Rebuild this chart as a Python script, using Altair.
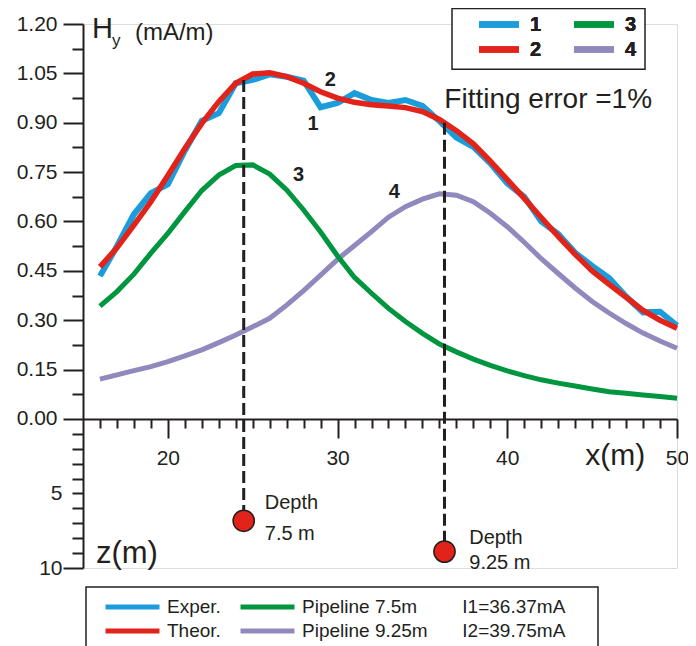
import altair as alt
import pandas as pd

# ---------------- data ----------------
x_m = list(range(16, 51))

exper = [0.434, 0.525, 0.622, 0.686, 0.713, 0.815, 0.906, 0.929, 1.020, 1.030,
         1.047, 1.040, 1.028, 0.947, 0.960, 0.990, 0.969, 0.960, 0.969, 0.951,
         0.905, 0.855, 0.827, 0.777, 0.716, 0.675, 0.600, 0.562, 0.505, 0.465,
         0.428, 0.372, 0.324, 0.326, 0.284]
theor = [0.462, 0.520, 0.589, 0.660, 0.740, 0.822, 0.898, 0.964, 1.020, 1.048,
         1.052, 1.040, 1.020, 0.994, 0.975, 0.962, 0.955, 0.951, 0.946, 0.934,
         0.910, 0.876, 0.836, 0.783, 0.727, 0.670, 0.612, 0.555, 0.500, 0.450,
         0.409, 0.370, 0.330, 0.300, 0.276]
pipe75 = [0.343, 0.387, 0.440, 0.504, 0.564, 0.630, 0.694, 0.741, 0.770, 0.772,
          0.744, 0.696, 0.635, 0.568, 0.495, 0.430, 0.382, 0.336, 0.296, 0.260,
          0.228, 0.204, 0.182, 0.163, 0.146, 0.132, 0.119, 0.109, 0.100, 0.091,
          0.083, 0.078, 0.073, 0.068, 0.063]
pipe925 = [0.121, 0.134, 0.147, 0.159, 0.174, 0.192, 0.210, 0.232, 0.255, 0.280,
           0.306, 0.346, 0.390, 0.437, 0.485, 0.527, 0.569, 0.613, 0.645, 0.668,
           0.684, 0.680, 0.660, 0.625, 0.584, 0.537, 0.487, 0.442, 0.398, 0.357,
           0.322, 0.290, 0.261, 0.237, 0.215]

series_ids = ["1", "2", "3", "4"]
series_desc = ["Exper.", "Theor.", "Pipeline 7.5m", "Pipeline 9.25m"]
series_colors = ["#1b9cdb", "#e2231a", "#00963f", "#8f89bd"]
series_width = [6, 5.5, 5, 5]
series_vals = [exper, theor, pipe75, pipe925]

currents = ["I1=36.37mA", "I2=39.75mA"]

# pipelines: x position, top of the dashed line on the curves (Hy), depth of marker (m)
pipe_x = [24.47, 36.3]
pipe_top = [1.03, 0.90]
pipe_depth = [6.83, 8.9]

# one vertical scale: Hy (mA/m) above 0, depth z (m) drawn downward below 0
DEPTH_K = 0.04527          # Hy units per metre of depth
Y_DOMAIN = [-10 * DEPTH_K, 1.2]

INK = "#231f20"
FONT = "Liberation Sans"

# ---------------- tables ----------------
rows = []
for sid, desc, vals in zip(series_ids, series_desc, series_vals):
    for xv, v in zip(x_m, vals):
        rows.append({"x": xv, "value": v, "series": sid, "desc": desc})
df = pd.DataFrame(rows)

pipes = pd.DataFrame({
    "x": pipe_x,
    "value": pipe_top,
    "y2": [-d * DEPTH_K for d in pipe_depth],
})

# ---------------- axes ----------------
y_ticks = [round(i * 0.075, 4) for i in range(17)] + [round(-z * DEPTH_K, 5) for z in range(1, 11)]
y_label_expr = (
    "datum.value > -0.001 ? "
    "(abs(datum.value/0.15 - round(datum.value/0.15)) < 0.01 ? format(datum.value, '.2f') : '') : "
    "((round(-datum.value/0.04527) == 5 || round(-datum.value/0.04527) == 10) ? '' + round(-datum.value/0.04527) : '')"
)
y_major = ("(datum.value > -0.001 && abs(datum.value/0.15 - round(datum.value/0.15)) < 0.01) "
           "|| datum.value < -0.44")

yaxis = alt.Axis(
    values=y_ticks, title=None, grid=False,
    labelExpr=y_label_expr, labelOverlap=False, labelFlush=False,
    tickSize={"condition": {"test": y_major, "value": 20}, "value": 11},
    labelPadding={"condition": [{"test": "datum.value < -0.44", "value": 1},
                                {"test": "datum.value < -0.01", "value": 10}],
                  "value": 6},
    domainColor=INK, domainWidth=2, tickColor=INK, tickWidth=2,
    labelFont=FONT, labelFontSize=21, labelColor=INK,
)
xaxis = alt.Axis(
    values=x_m, title=None, grid=False, offset=-149,
    labelExpr="datum.value % 10 == 0 ? datum.label : ''",
    labelOverlap=False, labelFlush=False,
    tickSize={"condition": {"test": "datum.value % 10 == 0", "value": 19}, "value": 9},
    labelPadding=9,
    domainColor=INK, domainWidth=2, tickColor=INK, tickWidth=2,
    labelFont=FONT, labelFontSize=21, labelColor=INK,
)
xs = alt.Scale(domain=[15, 50], nice=False, zero=False)
ys = alt.Scale(domain=Y_DOMAIN, nice=False, zero=False)


def X(field="x"):
    return alt.X(f"{field}:Q", scale=xs, axis=xaxis, title=None)


def Y(field="value"):
    return alt.Y(f"{field}:Q", scale=ys, axis=yaxis, title=None)


# legends fill column by column
color_scale = alt.Scale(domain=series_ids, range=series_colors)
legend_top = alt.Legend(
    orient="none", legendX=393, legendY=-12, columns=2, direction="vertical", title=None,
    symbolType="stroke", symbolSize=1600, symbolStrokeWidth=6, clipHeight=25,
    labelFont=FONT, labelFontSize=20, labelFontWeight="bold", labelColor=INK,
    labelOffset=8, columnPadding=29, rowPadding=0, padding=0,
)
desc_scale = alt.Scale(domain=series_desc, range=series_colors)
legend_bottom = alt.Legend(
    orient="none", legendX=20, legendY=571, columns=2, direction="vertical", title=None,
    symbolType="stroke", symbolSize=2916, symbolStrokeWidth=5, clipHeight=24,
    labelFont=FONT, labelFontSize=19, labelColor=INK,
    labelOffset=5, columnPadding=17, rowPadding=0, padding=0,
)

base = alt.Chart(df)

layers = []
# frames of the two legend boxes
frame_data = alt.Data(values=[{"k": 0}])
layers.append(alt.Chart(frame_data).mark_rect(fill="white", stroke=INK, strokeWidth=1.5).encode(
    x=alt.value(369), x2=alt.value(562), y=alt.value(-15.5), y2=alt.value(45.3)))
layers.append(alt.Chart(frame_data).mark_rect(fill="white", stroke=INK, strokeWidth=1.5).encode(
    x=alt.value(3), x2=alt.value(515), y=alt.value(563), y2=alt.value(660)))

# curves (drawn purple, green, blue, red)
for idx in [3, 2, 0, 1]:
    sid = series_ids[idx]
    layers.append(
        base.transform_filter(alt.datum.series == sid)
        .mark_line(strokeWidth=series_width[idx])
        .encode(x=X(), y=Y(), color=alt.Color("series:N", scale=color_scale, legend=legend_top))
    )
# invisible layer that carries the description legend
layers.append(
    base.transform_filter("false").mark_line(strokeWidth=5)
    .encode(x=X(), y=Y(), stroke=alt.Stroke("desc:N", scale=desc_scale, legend=legend_bottom))
)

# dashed drop lines and pipeline markers
layers.append(alt.Chart(pipes).mark_rule(color=INK, strokeWidth=3, strokeDash=[12, 5]).encode(
    x=X(), y=Y(), y2=alt.Y2("y2:Q")))
layers.append(alt.Chart(pipes).mark_circle(size=452, fill="#e2231a", stroke=INK, strokeWidth=1.5,
                                           opacity=1, fillOpacity=1).encode(x=X(), y=Y("y2")))

# text annotations
ann_text = ["1", "2", "3", "4",
            "Fitting error =1%", "x(m)", "z(m)",
            "Depth", "7.5 m", "Depth", "9.25 m",
            "H", "y", "(mA/m)",
            currents[0], currents[1]]
ann_x = [28.56, 29.57, 27.7, 33.35,
         36.29, 44.59, 15.76,
         25.71, 25.71, 37.76, 37.76,
         15.53, 16.71, 18.06,
         37.35, 37.35]
ann_y = [0.896, 1.030, 0.741, 0.690,
         0.944, -0.1397, -0.4375,
         -0.2567, -0.3485, -0.3615, -0.4360,
         1.158, 1.134, 1.151,
         -0.5711, -0.6441]
ann_size = [20, 20, 20, 20,
            28, 30, 31,
            20, 20, 20, 20,
            29, 17, 24,
            19, 19]
ann_bold = [True] * 4 + [False] * 12
ann_align = ["center"] * 4 + ["left"] * 12
ann_base = ["middle"] * 4 + ["alphabetic"] * 3 + ["middle"] * 4 + ["alphabetic"] * 3 + ["middle"] * 2

ann = pd.DataFrame({"t": ann_text, "ax": ann_x, "ay": ann_y, "fs": ann_size,
                    "bold": ann_bold, "al": ann_align, "bl": ann_base})
for (fs, bold, al, bl), grp in ann.groupby(["fs", "bold", "al", "bl"]):
    layers.append(
        alt.Chart(grp).mark_text(font=FONT, fontSize=int(fs), fontWeight="bold" if bold else "normal",
                                 align=al, baseline=bl, color=INK)
        .encode(x=X("ax"), y=Y("ay"), text="t:N")
    )

chart = alt.layer(*layers).properties(
    width=594, height=544,
    autosize=alt.AutoSizeParams(type="none"),
    padding={"left": 75, "top": 16, "right": 11, "bottom": 78},
).resolve_scale(color="independent", stroke="independent").configure_view(stroke=None).configure(background="white")

chart.save("out.html", embed_options={"renderer": "svg", "actions": False})
